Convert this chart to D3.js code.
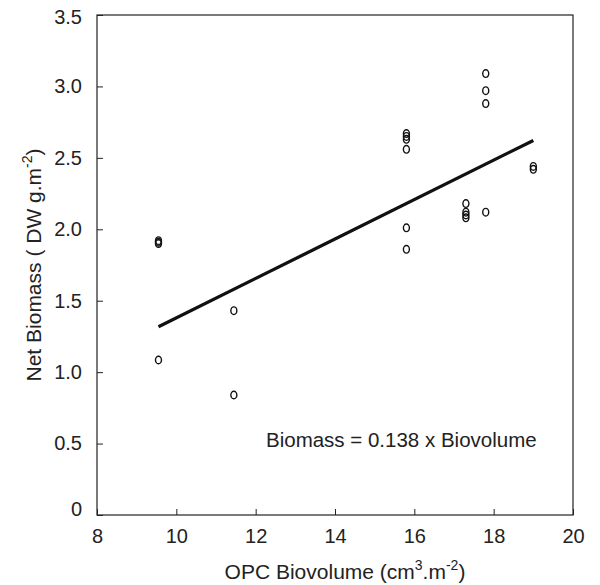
<!DOCTYPE html>
<html lang="en">
<head>
    <meta charset="UTF-8">
    <title>Net Biomass vs OPC Biovolume</title>
    <script src="https://d3js.org/d3.v7.min.js"></script>
    <style>
        body {
            margin: 0;
            background-color: #ffffff;
            font-family: "Liberation Sans", Arial, sans-serif;
        }
        .axis text {
            font-size: 20px;
            fill: #222;
        }
        .axis path, .axis line {
            stroke: #222;
        }
    </style>
</head>
<body>
    <svg width="600" height="585"></svg>

    <script>
        // Data
        var biovolume = [9.55, 9.55, 9.55, 9.55,
                         11.45, 11.45,
                         15.8, 15.8, 15.8, 15.8, 15.8, 15.8,
                         17.3, 17.3, 17.3, 17.3,
                         17.8, 17.8, 17.8, 17.8,
                         19.0, 19.0];
        var biomass = [1.92, 1.91, 1.90, 1.085,
                       1.43, 0.84,
                       2.67, 2.65, 2.63, 2.56, 2.01, 1.86,
                       2.18, 2.12, 2.10, 2.08,
                       3.09, 2.97, 2.88, 2.12,
                       2.44, 2.42];

        // regression line through origin: Biomass = 0.138 x Biovolume
        var slope = 0.138;
        var fitRange = [9.55, 19.0];

        var xTicks = [8, 10, 12, 14, 16, 18, 20];
        var yTicks = [0, 0.5, 1.0, 1.5, 2.0, 2.5, 3.0, 3.5];

        // Set up dimensions
        var margin = { top: 15, right: 27, bottom: 70, left: 97 },
            width = 600 - margin.left - margin.right,
            height = 585 - margin.top - margin.bottom;

        var svg = d3.select("svg")
                    .append("g")
                    .attr("transform", "translate(" + margin.left + "," + margin.top + ")");

        var x = d3.scaleLinear().domain([8, 20]).range([0, width]);
        var y = d3.scaleLinear().domain([0, 3.5]).range([height, 0]);

        // frame
        svg.append("rect")
           .attr("width", width)
           .attr("height", height)
           .attr("fill", "none")
           .attr("stroke", "#222")
           .attr("stroke-width", 1.2);

        // X axis (ticks pointing inward)
        svg.append("g")
           .attr("class", "axis")
           .attr("transform", "translate(0," + height + ")")
           .call(d3.axisBottom(x).tickValues(xTicks).tickSize(-6).tickPadding(14)
                 .tickFormat(d3.format("d")))
           .call(g => g.select(".domain").remove());

        // Y axis
        var yAxis = svg.append("g")
           .attr("class", "axis")
           .call(d3.axisLeft(y).tickValues(yTicks).tickSize(-6).tickPadding(15)
                 .tickFormat(function(d) { return d === 0 ? "0" : d3.format(".1f")(d); }))
           .call(g => g.select(".domain").remove());

        // end labels sit a little inside, like the original
        yAxis.selectAll(".tick text")
             .attr("y", function(d) { return d === 0 ? -6 : (d === 3.5 ? 2 : 0); });

        // fitted line
        svg.append("line")
           .attr("x1", x(fitRange[0]))
           .attr("y1", y(slope * fitRange[0]))
           .attr("x2", x(fitRange[1]))
           .attr("y2", y(slope * fitRange[1]))
           .attr("stroke", "#111")
           .attr("stroke-width", 3.3);

        // points (open circles)
        svg.append("g")
           .selectAll("ellipse")
           .data(biovolume)
           .enter().append("ellipse")
           .attr("cx", function(d) { return x(d); })
           .attr("cy", function(d, i) { return y(biomass[i]); })
           .attr("rx", 3)
           .attr("ry", 3.8)
           .attr("fill", "none")
           .attr("stroke", "#111")
           .attr("stroke-width", 1.4);

        // equation
        svg.append("text")
           .attr("x", 266 - margin.left)
           .attr("y", 447 - margin.top)
           .attr("font-size", 20.5)
           .attr("fill", "#222")
           .text("Biomass = 0.138 x Biovolume");

        // axis titles
        var xt = svg.append("text")
           .attr("x", 345 - margin.left)
           .attr("y", height + 64)
           .attr("text-anchor", "middle")
           .attr("font-size", 21)
           .attr("fill", "#222");
        xt.append("tspan").text("OPC Biovolume (cm");
        xt.append("tspan").attr("dy", -9).attr("font-size", 14).text("3");
        xt.append("tspan").attr("dy", 9).text(".m");
        xt.append("tspan").attr("dy", -9).attr("font-size", 14).text("-2");
        xt.append("tspan").attr("dy", 9).text(")");

        var yt = svg.append("text")
           .attr("transform", "translate(-56," + (height / 2) + ") rotate(-90)")
           .attr("text-anchor", "middle")
           .attr("font-size", 21)
           .attr("fill", "#222");
        yt.append("tspan").text("Net Biomass ( DW g.m");
        yt.append("tspan").attr("dy", -9).attr("font-size", 14).text("-2");
        yt.append("tspan").attr("dy", 9).text(")");
    </script>
</body>
</html>
